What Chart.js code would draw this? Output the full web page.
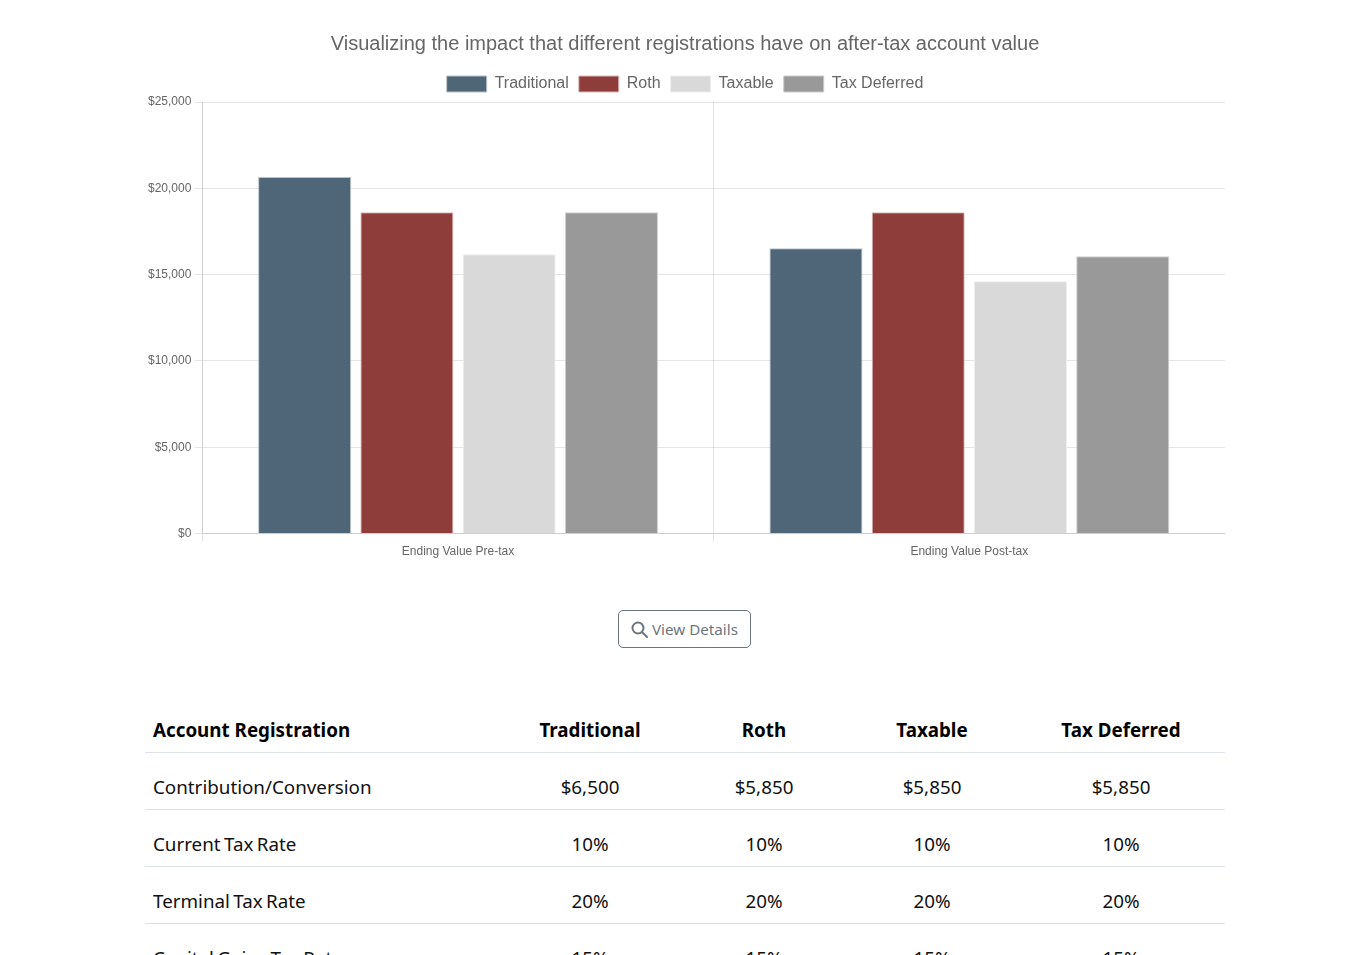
<!DOCTYPE html>
<html lang="en">
<head>
  <meta charset="UTF-8">
  <title>After-tax account value</title>
  <script src="https://cdn.jsdelivr.net/npm/chart.js"></script>
  <style>
    html, body {
      margin: 0;
      height: 955px;
      overflow: hidden;
      background: #fff;
    }
    #chartBox {
      position: absolute;
      left: 145px;
      top: 22px;
      width: 1080px;
      height: 540px;
    }
    #detailsBtn {
      position: absolute;
      left: 618px;
      top: 610px;
      width: 133px;
      height: 38px;
      box-sizing: border-box;
      border: 1px solid #6c757d;
      border-radius: 5px;
      background: #fff;
      color: #6c757d;
      font: 15.2px "Noto Sans", sans-serif;
      padding: 0;
    }
    #detailsBtn svg {
      vertical-align: -3px;
    }
    table {
      position: absolute;
      left: 145px;
      top: 702px;
      width: 1080px;
      table-layout: fixed;
      border-collapse: collapse;
      font: 18.8px "Noto Sans", sans-serif;
      color: #000;
    }
    th, td {
      height: 56px;
      padding: 11px 8px 0;
      box-sizing: content-box;
      text-align: center;
      border-bottom: 1px solid #dee2e6;
    }
    td {
      height: 45px;
      color: #111;
      word-spacing: -1.5px;
    }
    th {
      height: 44px;
      padding-top: 6px;
    }
    th:first-child, td:first-child {
      text-align: left;
    }
  </style>
</head>
<body>
  <div id="chartBox"><canvas id="valueChart"></canvas></div>

  <button id="detailsBtn">
    <svg width="17" height="17" viewBox="0 0 17 17" fill="none" stroke="#6c757d" stroke-width="2">
      <circle cx="7" cy="7" r="5.5"></circle>
      <path d="M11 11 L16 16" stroke-linecap="round"></path>
    </svg>
    View Details
  </button>

  <table id="regTable">
    <colgroup>
      <col style="width:354px"><col style="width:182px"><col style="width:166px"><col style="width:170px"><col style="width:208px">
    </colgroup>
    <thead></thead>
    <tbody></tbody>
  </table>

  <script>
    const categories = ['Ending Value Pre-tax', 'Ending Value Post-tax'];
    const traditional = [20650, 16530];
    const roth = [18620, 18620];
    const taxable = [16185, 14620];
    const taxDeferred = [18620, 16070];

    const tableHead = ['Account Registration', 'Traditional', 'Roth', 'Taxable', 'Tax Deferred'];
    const contribution = ['Contribution/Conversion', '$6,500', '$5,850', '$5,850', '$5,850'];
    const currentRate = ['Current Tax Rate', '10%', '10%', '10%', '10%'];
    const terminalRate = ['Terminal Tax Rate', '20%', '20%', '20%', '20%'];
    const capGainsRate = ['Capital Gains Tax Rate', '15%', '15%', '15%', '15%'];

    const headRow = document.createElement('tr');
    tableHead.forEach(t => {
      const th = document.createElement('th');
      th.textContent = t;
      headRow.appendChild(th);
    });
    document.querySelector('#regTable thead').appendChild(headRow);
    [contribution, currentRate, terminalRate, capGainsRate].forEach(row => {
      const tr = document.createElement('tr');
      row.forEach(t => {
        const td = document.createElement('td');
        td.textContent = t;
        tr.appendChild(td);
      });
      document.querySelector('#regTable tbody').appendChild(tr);
    });

    const arial = '"Liberation Sans", Arial, sans-serif';

    new Chart(document.getElementById('valueChart'), {
      type: 'bar',
      data: {
        labels: categories,
        datasets: [
          { label: 'Traditional', data: traditional, backgroundColor: '#4f6578', borderColor: '#b9c2ca', borderWidth: 1 },
          { label: 'Roth', data: roth, backgroundColor: '#8f3d3a', borderColor: '#d9bcbb', borderWidth: 1 },
          { label: 'Taxable', data: taxable, backgroundColor: '#d9d9d9', borderColor: '#eeeeee', borderWidth: 1 },
          { label: 'Tax Deferred', data: taxDeferred, backgroundColor: '#999999', borderColor: '#cccccc', borderWidth: 1 }
        ]
      },
      options: {
        responsive: true,
        maintainAspectRatio: false,
        animation: false,
        datasets: { bar: { barPercentage: 0.91 } },
        plugins: {
          title: {
            display: true,
            text: 'Visualizing the impact that different registrations have on after-tax account value',
            color: '#666',
            font: { family: arial, size: 20, weight: 'normal' },
            padding: { top: 10, bottom: 10 }
          },
          legend: {
            labels: {
              color: '#666',
              font: { family: arial, size: 16 },
              boxWidth: 40,
              boxHeight: 16,
              padding: 10
            }
          },
          tooltip: { enabled: false }
        },
        scales: {
          x: {
            grid: { color: 'rgba(0,0,0,0.1)' },
            ticks: { color: '#666', font: { family: arial, size: 12 } }
          },
          y: {
            min: 0,
            max: 25000,
            grid: { color: 'rgba(0,0,0,0.1)' },
            ticks: {
              stepSize: 5000,
              color: '#666',
              font: { family: arial, size: 12 },
              callback: v => '$' + v.toLocaleString('en-US')
            }
          }
        }
      }
    });
  </script>
</body>
</html>
